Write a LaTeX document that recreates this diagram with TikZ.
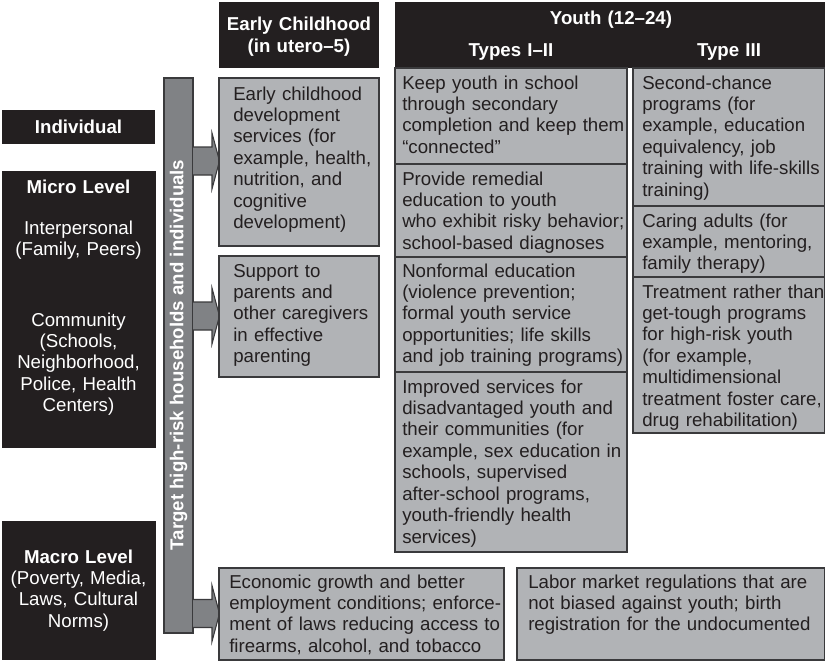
\documentclass[tikz,border=0pt]{standalone}
\usepackage{fontspec}
\setmainfont{Liberation Sans}
\definecolor{blk}{HTML}{231F20}
\definecolor{gfill}{HTML}{B1B3B6}
\definecolor{barc}{HTML}{808285}
\definecolor{edgec}{HTML}{3A3A3C}
\newcommand\mkbox[6]{\node[#6, minimum width={(#4-#2)*0.75pt}, minimum height={(#5-#3)*0.75pt}] (#1) at (#2,#3) {};}
\tikzset{
  bbox/.style={fill=blk, draw=none, inner sep=0pt, outer sep=0pt, anchor=north west},
  gbox/.style={fill=gfill, draw=edgec, line width=0.9pt, inner sep=0pt, outer sep=0pt, anchor=north west},
  barbox/.style={fill=barc, draw=edgec, line width=0.9pt, inner sep=0pt, outer sep=0pt, anchor=north west},
  arrw/.style={fill=barc, draw=edgec, line width=0.8pt, line join=miter},
  txt/.style={font=\fontsize{14}{16.1}\selectfont, text=blk, align=left, text width=#1, inner sep=0pt, anchor=base west},
  txt/.default=200pt,
  htxt/.style={font=\bfseries\fontsize{14}{16.5}\selectfont, text=white, align=center, text width=#1, inner sep=0pt, anchor=base},
  htxt/.default=150pt,
  ltxt/.style={font=\fontsize{14}{16.1}\selectfont, text=white, align=center, text width=115pt, inner sep=0pt, anchor=base},
}
\begin{document}
\begin{tikzpicture}[x=0.75pt,y=-0.75pt]
\useasboundingbox (0,0) rectangle (825,661);
% left column
\mkbox{ind}{2}{110}{155}{144}{bbox}
\mkbox{micro}{2}{171}{156}{448}{bbox}
\mkbox{macro}{2}{521}{156}{660}{bbox}
\node[htxt=115pt] (tind) at (78.5,133) {Individual};
\node[htxt=115pt] (tmic) at (78.5,193) {Micro Level};
\node[ltxt] (tint) at (78.5,234.5) {Interpersonal\\(Family, Peers)};
\node[ltxt] (tcom) at (78.5,326) {Community\\(Schools,\\Neighborhood,\\Police, Health\\Centers)};
\node[ltxt] (tmac) at (78.5,563) {\textbf{Macro Level}\\(Poverty, Media,\\Laws, Cultural\\Norms)};
% headers
\mkbox{ech}{219}{2}{379}{68}{bbox}
\mkbox{yh}{395}{2}{825}{68}{bbox}
\node[htxt] (tech) at (299,30) {Early Childhood\\(in utero--5)};
\node[htxt=300pt] (tyh) at (611,24) {Youth (12--24)};
\node[htxt] (tt12) at (511,56) {Types I--II};
\node[htxt] (tt3) at (729,56) {Type III};
% bar and arrows
\mkbox{bar}{164}{78}{193}{633}{barbox}
\node[rotate=90, font=\bfseries\fontsize{14}{16.1}\selectfont, text=white, inner sep=0pt] (tbar) at (178.5,355) {Target high-risk households and individuals};
\foreach \yy in {161,316,613.5}{
  \draw[arrw] (193,{\yy-14}) -- (212,{\yy-14}) -- (212,{\yy-28}) -- (219.5,\yy) -- (212,{\yy+28}) -- (212,{\yy+14}) -- (193,{\yy+14});
}
% early childhood boxes
\mkbox{ec1}{219}{78}{379}{246}{gbox}
\mkbox{ec2}{219}{256}{379}{377}{gbox}
\node[txt] (tec1) at (233,100) {Early childhood\\development\\services (for\\example, health,\\nutrition, and\\cognitive\\development)};
\node[txt] (tec2) at (233,277) {Support to\\parents and\\other caregivers\\in effective\\parenting};
% types I-II
\mkbox{ty1}{395}{68}{627}{164}{gbox}
\mkbox{ty2}{395}{164}{627}{257}{gbox}
\mkbox{ty3}{395}{257}{627}{372}{gbox}
\mkbox{ty4}{395}{372}{627}{552}{gbox}
\node[txt] (tty1) at (402,89) {Keep youth in school\\through secondary\\completion and keep them\\“connected”};
\node[txt] (tty2) at (402,185) {Provide remedial\\education to youth\\who exhibit risky behavior;\\school-based diagnoses};
\node[txt] (tty3) at (402,277) {Nonformal education\\(violence prevention;\\formal youth service\\opportunities; life skills\\and job training programs)};
\node[txt] (tty4) at (402,393) {Improved services for\\disadvantaged youth and\\their communities (for\\example, sex education in\\schools, supervised\\after-school programs,\\youth-friendly health\\services)};
% type III
\mkbox{tz1}{633}{68}{824.5}{206}{gbox}
\mkbox{tz2}{633}{206}{824.5}{277}{gbox}
\mkbox{tz3}{633}{277}{824.5}{433}{gbox}
\node[txt] (ttz1) at (642,89) {Second-chance\\programs (for\\example, education\\equivalency, job\\training with life-skills\\training)};
\node[txt] (ttz2) at (642,227) {Caring adults (for\\example, mentoring,\\family therapy)};
\node[txt] (ttz3) at (642,298) {Treatment rather than\\get-tough programs\\for high-risk youth\\(for example,\\multidimensional\\treatment foster care,\\drug rehabilitation)};
% bottom
\mkbox{eco}{219}{568}{504}{660}{gbox}
\mkbox{lab}{517}{568}{824.5}{660}{gbox}
\node[txt=230pt] (teco) at (229,588) {Economic growth and better\\employment conditions; enforce-\\ment of laws reducing access to\\firearms, alcohol, and tobacco};
\node[txt=230pt] (tlab) at (528,588) {Labor market regulations that are\\not biased against youth; birth\\registration for the undocumented};
\end{tikzpicture}
\end{document}
